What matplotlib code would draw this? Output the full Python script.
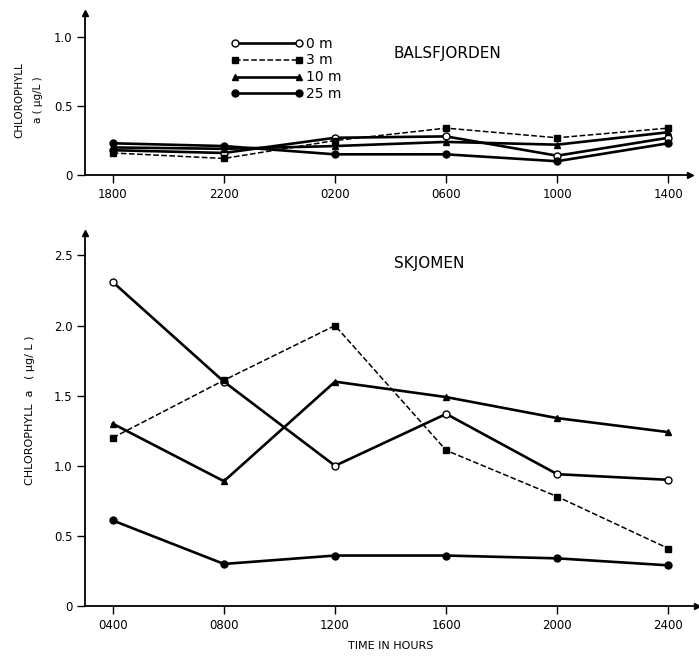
import matplotlib
matplotlib.use("Agg")
import matplotlib.pyplot as plt

# --- data ---
depths = ["0 m", "3 m", "10 m", "25 m"]

bals_hours = ["1800", "2200", "0200", "0600", "1000", "1400"]
bals_0m  = [0.18, 0.16, 0.27, 0.28, 0.14, 0.27]
bals_3m  = [0.16, 0.12, 0.25, 0.34, 0.27, 0.34]
bals_10m = [0.20, 0.19, 0.21, 0.24, 0.22, 0.31]
bals_25m = [0.23, 0.21, 0.15, 0.15, 0.10, 0.23]

skj_hours = ["0400", "0800", "1200", "1600", "2000", "2400"]
skj_0m  = [2.31, 1.60, 1.00, 1.37, 0.94, 0.90]
skj_3m  = [1.20, 1.61, 2.00, 1.11, 0.78, 0.41]
skj_10m = [1.30, 0.89, 1.60, 1.49, 1.34, 1.24]
skj_25m = [0.61, 0.30, 0.36, 0.36, 0.34, 0.29]

styles = [
    dict(ls="-",  lw=1.9, marker="o", mfc="white", mec="black", ms=5),
    dict(ls="--", lw=1.1, marker="s", mfc="black", mec="black", ms=4),
    dict(ls="-",  lw=1.9, marker="^", mfc="black", mec="black", ms=4.5),
    dict(ls="-",  lw=1.9, marker="o", mfc="black", mec="black", ms=5),
]

plt.rcParams["font.family"] = "DejaVu Sans"

fig = plt.figure(figsize=(6.99, 6.59), dpi=100)
ax1 = fig.add_axes([0.1216, 0.7344, 0.866, 0.2458])
ax2 = fig.add_axes([0.1216, 0.0804, 0.876, 0.5660])


def style_axes(ax, hours, ymax, yticks, ylabels, xright):
    ax.set_xlim(-0.25, xright)
    ax.set_ylim(0, ymax)
    ax.set_xticks(range(len(hours)))
    ax.set_xticklabels(hours, fontsize=8.5)
    ax.set_yticks(yticks)
    ax.set_yticklabels(ylabels, fontsize=8.5)
    for s in ["top", "right"]:
        ax.spines[s].set_visible(False)
    for s in ["left", "bottom"]:
        ax.spines[s].set_linewidth(1.3)
    ax.tick_params(axis="both", direction="out", length=6, width=1, pad=3)
    ax.plot(0, 1, "^k", ms=5, transform=ax.transAxes, clip_on=False)
    ax.plot(1, 0, ">k", ms=5, transform=ax.transAxes, clip_on=False)


# Balsfjorden
for vals, st, lab in zip([bals_0m, bals_3m, bals_10m, bals_25m], styles, depths):
    ax1.plot(range(len(bals_hours)), vals, color="black", label=lab, **st)
style_axes(ax1, bals_hours, 1.174, [0, 0.5, 1.0], ["0", "0.5", "1.0"], 5.2)
ax1.text(0.51, 0.72, "BALSFJORDEN", transform=ax1.transAxes, fontsize=11)
ax1.legend(loc="upper left", bbox_to_anchor=(0.322, 0.953), bbox_transform=fig.transFigure,
           frameon=False, numpoints=2, handlelength=5.2, fontsize=10,
           labelspacing=0.21, handletextpad=0.2, borderaxespad=0)
fig.text(0.028, 0.848, "CHLOROPHYLL", rotation=90, fontsize=7.5, ha="center", va="center")
fig.text(0.055, 0.848, "a ( µg/L )", rotation=90, fontsize=7.5, ha="center", va="center")

# Skjomen
for vals, st in zip([skj_0m, skj_3m, skj_10m, skj_25m], styles):
    ax2.plot(range(len(skj_hours)), vals, color="black", **st)
style_axes(ax2, skj_hours, 2.66, [0, 0.5, 1.0, 1.5, 2.0, 2.5],
           ["0", "0.5", "1.0", "1.5", "2.0", "2.5"], 5.26)
ax2.text(0.505, 0.905, "SKJOMEN", transform=ax2.transAxes, fontsize=11)
ax2.set_xlabel("TIME IN HOURS", fontsize=8, labelpad=7)
fig.text(0.043, 0.378, "CHLOROPHYLL  a   ( µg/ L )", rotation=90, fontsize=8,
         ha="center", va="center")

fig.savefig("out.png", dpi=100)
